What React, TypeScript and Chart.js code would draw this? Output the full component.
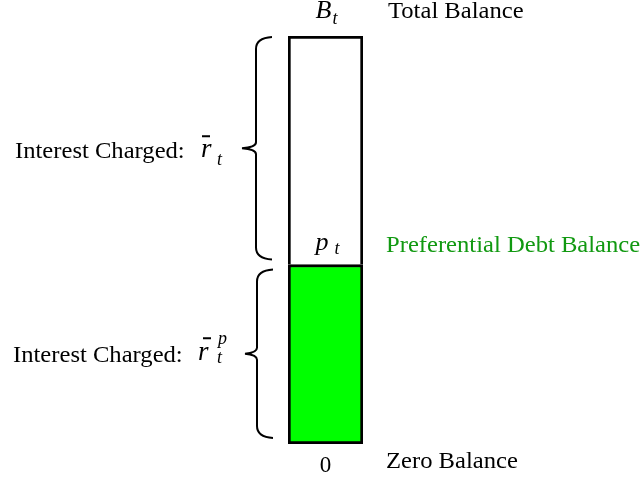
import React, { useEffect, useRef } from "react";
import { Chart, registerables } from "chart.js";

Chart.register(...registerables);

// ---- data ----
const categories = ["Balance"];
const preferentialDebt = [44];      // p_t (share of total balance)
const remainingDebt = [56];         // B_t - p_t
const balanceAxisMax = 100;         // B_t
const levelNames = ["Zero Balance", "Preferential Debt Balance", "Total Balance"];
const interestLabels = ["Interest Charged:", "Interest Charged:"];

const SERIF = '"Liberation Serif", "Times New Roman", serif';
const SX = 1.07;

function txt(ctx: CanvasRenderingContext2D, s: string, x: number, y: number, sx = SX) {
  ctx.save();
  ctx.translate(x, y);
  ctx.scale(sx, 1);
  ctx.fillText(s, 0, 0);
  ctx.restore();
}

function brace(ctx: CanvasRenderingContext2D, x: number, top: number, bottom: number, tip: number) {
  const mid = (top + bottom) / 2;
  ctx.beginPath();
  ctx.moveTo(x + 16, top);
  ctx.quadraticCurveTo(x, top + 1, x, top + 12);
  ctx.lineTo(x, mid - 6);
  ctx.quadraticCurveTo(x, mid - 1, tip, mid);
  ctx.quadraticCurveTo(x, mid + 1, x, mid + 6);
  ctx.lineTo(x, bottom - 12);
  ctx.quadraticCurveTo(x, bottom - 1, x + 16, bottom);
  ctx.stroke();
}

const annotations = {
  id: "annotations",
  afterDraw(chart: any) {
    const ctx: CanvasRenderingContext2D = chart.ctx;
    const y = chart.scales.y;
    const yTop = y.getPixelForValue(balanceAxisMax);
    const yPref = y.getPixelForValue(preferentialDebt[0]);
    const yZero = y.getPixelForValue(0);
    const area = chart.chartArea;
    const cx = (area.left + area.right) / 2;
    const rightX = area.right + 23;

    ctx.save();
    ctx.fillStyle = "#000";
    ctx.strokeStyle = "#000";
    ctx.textBaseline = "alphabetic";
    ctx.textAlign = "left";

    // level labels at right
    ctx.font = `23px ${SERIF}`;
    txt(ctx, levelNames[2], rightX + 2, yTop - 18);
    ctx.fillStyle = "#119911";
    txt(ctx, levelNames[1], rightX, yPref - 12);
    ctx.fillStyle = "#000";
    txt(ctx, levelNames[0], rightX, yZero + 24);

    // values above / below the bar
    ctx.font = `italic 26px ${SERIF}`;
    txt(ctx, "B", cx - 10, yTop - 18, 1);
    txt(ctx, "p", cx - 10, yPref - 14, 1);
    ctx.font = `italic 18px ${SERIF}`;
    txt(ctx, "t", cx + 7, yTop - 12, 1);
    txt(ctx, "t", cx + 9, yPref - 10, 1);
    ctx.font = `23px ${SERIF}`;
    ctx.textAlign = "center";
    ctx.fillText("0", cx, yZero + 28);
    ctx.textAlign = "left";

    // braces
    ctx.lineWidth = 2;
    brace(ctx, 256, yTop + 1, yPref - 5, 242);
    brace(ctx, 257, yPref + 5, yZero - 6, 245);

    // interest labels
    const m1 = (yTop + yPref) / 2 + 8;
    const m2 = (yPref + yZero) / 2 + 8;
    ctx.font = `23px ${SERIF}`;
    txt(ctx, interestLabels[0], 15, m1);
    txt(ctx, interestLabels[1], 13, m2);

    // r-bar_t
    ctx.font = `italic 27px ${SERIF}`;
    txt(ctx, "r", 201, m1 - 1, 1);
    txt(ctx, "r", 198, m2 - 2, 1);
    ctx.font = `italic 18px ${SERIF}`;
    txt(ctx, "t", 217, m1 + 7, 1);
    txt(ctx, "t", 217, m2 + 1, 1);
    txt(ctx, "p", 218, m2 - 18, 1);
    ctx.lineWidth = 2;
    ctx.beginPath();
    ctx.moveTo(202, m1 - 22);
    ctx.lineTo(210, m1 - 22);
    ctx.moveTo(203, m2 - 24);
    ctx.lineTo(211, m2 - 24);
    ctx.stroke();

    ctx.restore();
  },
};

export default function App() {
  const ref = useRef<HTMLCanvasElement>(null);
  useEffect(() => {
    if (!ref.current) return;
    const chart = new Chart(ref.current, {
      type: "bar",
      data: {
        labels: categories,
        datasets: [
          {
            label: "Preferential debt",
            data: preferentialDebt,
            backgroundColor: "#00ff00",
            borderColor: "#000",
            borderWidth: 3,
            borderSkipped: false,
            categoryPercentage: 1,
            barPercentage: 1,
          },
          {
            label: "Other debt",
            data: remainingDebt,
            backgroundColor: "#ffffff",
            borderColor: "#000",
            borderWidth: 3,
            borderSkipped: "bottom",
            categoryPercentage: 1,
            barPercentage: 1,
          },
        ],
      },
      options: {
        animation: false,
        responsive: false,
        maintainAspectRatio: false,
        layout: { padding: { left: 288, right: 279, top: 36, bottom: 36 } },
        plugins: { legend: { display: false }, tooltip: { enabled: false } },
        scales: {
          x: { stacked: true, display: false },
          y: { stacked: true, display: false, min: 0, max: balanceAxisMax },
        },
      },
      plugins: [annotations],
    });
    return () => chart.destroy();
  }, []);
  return (
    <div style={{ position: "absolute", left: 0, top: 0, width: 642, height: 480, background: "#fff" }}>
      <canvas ref={ref} width={642} height={480} style={{ width: 642, height: 480 }} />
    </div>
  );
}
